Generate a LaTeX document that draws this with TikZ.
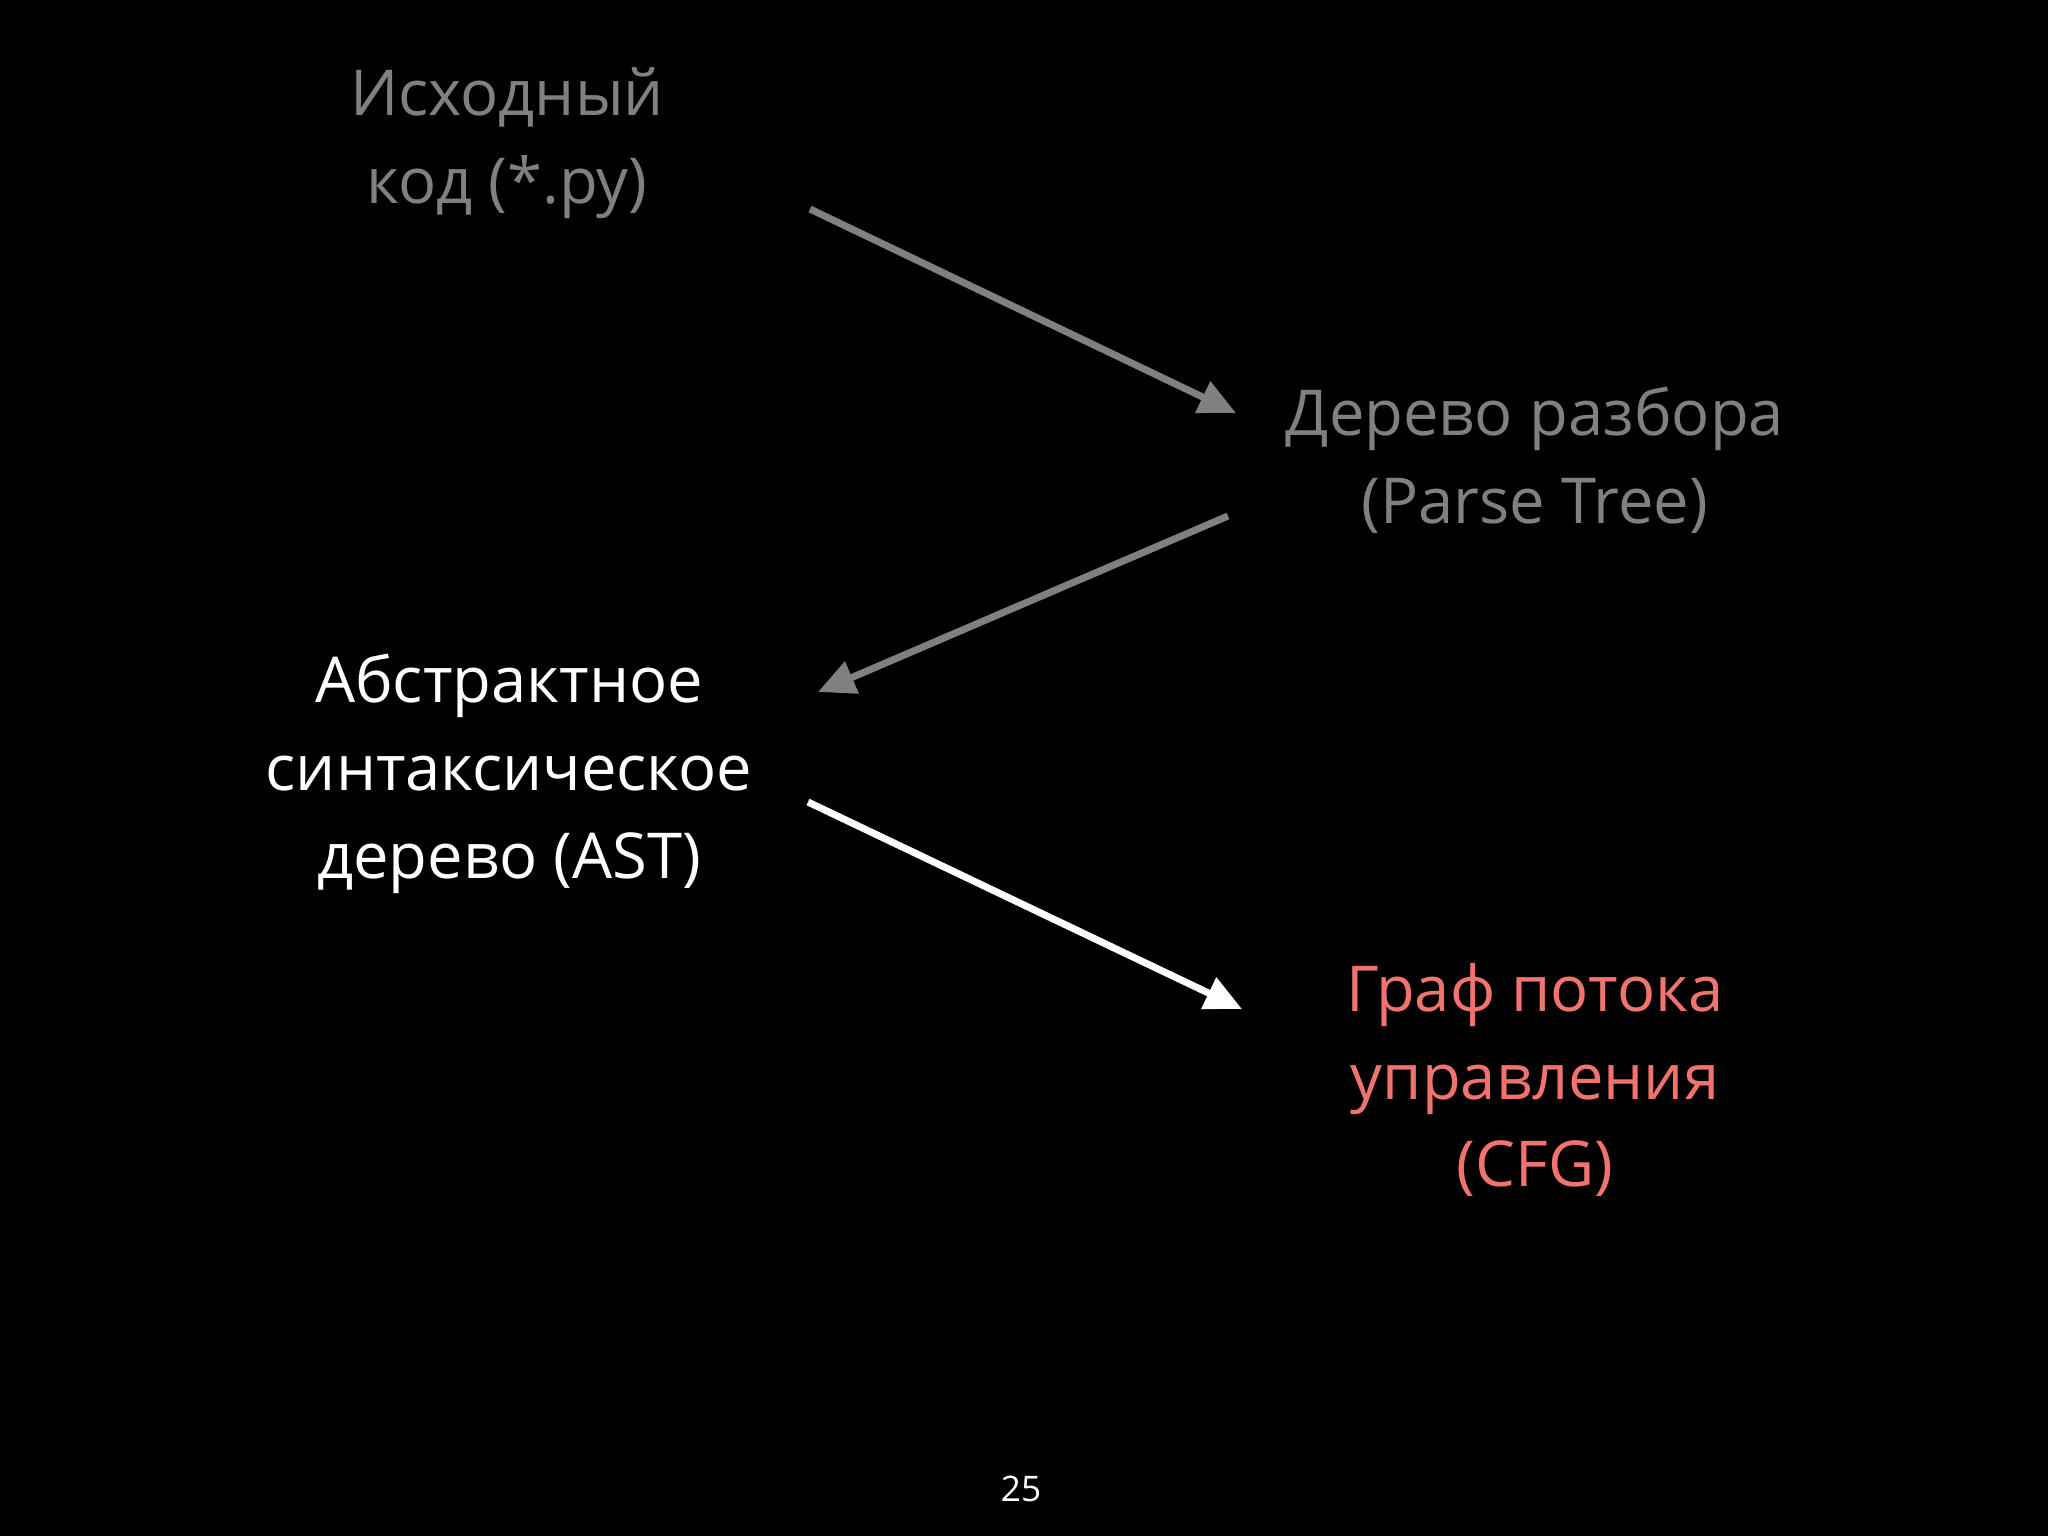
\documentclass[tikz,border=0pt]{standalone}
\usepackage{fontspec}
\setmainfont{Open Sans}
\usetikzlibrary{arrows.meta}
\definecolor{dimgray}{RGB}{128,128,128}
\definecolor{salmon}{RGB}{240,115,110}
\tikzset{
  label/.style={align=center, inner sep=0pt, font=\fontsize{18}{25}\selectfont},
  conn/.style={line width=2pt, -{Triangle[length=10.5pt,width=9.5pt]}},
}
\begin{document}
\begin{tikzpicture}[x=0.01cm,y=-0.01cm]
\fill[black] (0,0) rectangle (2048,1536);
\useasboundingbox (0,0) rectangle (2048,1536);
\node[label, text=dimgray] (src) at (507,143) {Исходный\\код (*.py)};
\node[label, text=dimgray] (parse) at (1535,460) {Дерево разбора\\(Parse Tree)};
\node[label, text=white] (ast) at (509,774) {Абстрактное\\синтаксическое\\дерево (AST)};
\node[label, text=salmon] (cfg) at (1535,1080) {Граф потока\\управления\\(CFG)};
\node[font=\fontsize{10}{12}\selectfont, text=white, inner sep=0pt] (page) at (1021,1489) {25};
\coordinate (a1s) at (810,209);
\coordinate (a1e) at (1236,413);
\coordinate (a2s) at (1228,516);
\coordinate (a2e) at (818,692);
\coordinate (a3s) at (808,802);
\coordinate (a3e) at (1242,1009);
\draw[conn, draw=dimgray, fill=dimgray] (a1s) -- (a1e);
\draw[conn, draw=dimgray, fill=dimgray] (a2s) -- (a2e);
\draw[conn, draw=white, fill=white] (a3s) -- (a3e);
\end{tikzpicture}
\end{document}
